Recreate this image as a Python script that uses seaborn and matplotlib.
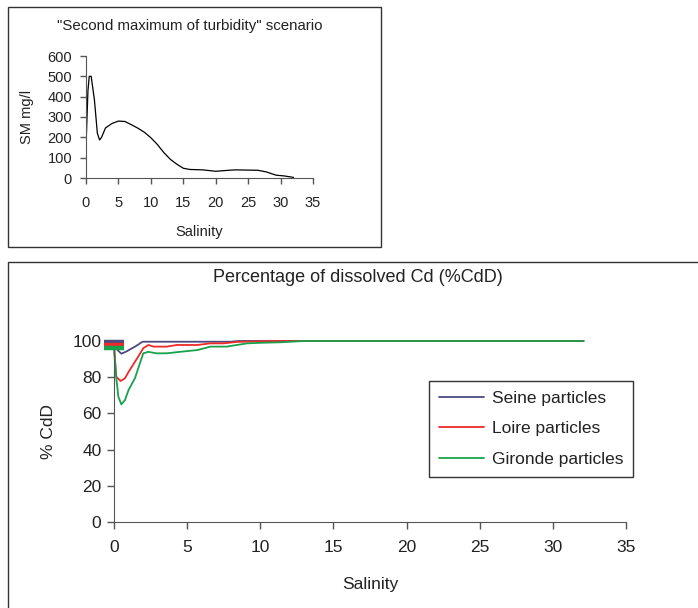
import matplotlib
matplotlib.use("Agg")
import matplotlib.pyplot as plt
from matplotlib.patches import Rectangle
import seaborn as sns
import pandas as pd

# Suspended matter profile along the salinity gradient
sal_sm = [0, 0.05, 0.3, 0.5, 0.8, 1.3, 1.75, 2.1, 2.4, 3.0, 4.0, 5.0, 6.0, 7.0,
          8.0, 9.0, 10.0, 11.0, 12.0, 13.0, 14.0, 15.0, 16.0, 18.0, 20.0, 22.0,
          23.0, 26.5, 27.8, 29.3, 30.6, 32.0]
sm_mgl = [0, 200, 430, 500, 500, 384, 220, 187, 200, 246, 268, 280, 278, 262,
          245, 225, 198, 165, 125, 92, 68, 48, 42, 40, 33, 38,
          40, 38, 30, 14, 10, 3]

# Percentage of dissolved Cd for three particle types
sal_seine = [0, 0.12, 0.5, 0.8, 1.5, 1.95, 8.0, 8.5, 32.1]
cdd_seine = [99.7, 96, 93, 94, 97.2, 99.6, 99.6, 100, 100]

sal_loire = [0, 0.15, 0.45, 0.75, 1.0, 1.65, 2.0, 2.35, 2.7, 3.6, 4.3, 5.7,
             6.6, 7.5, 8.4, 11.0, 32.1]
cdd_loire = [98, 80.3, 77.9, 79.4, 83, 91.3, 96, 97.8, 96.9, 96.9, 97.8, 97.8,
             98.7, 98.7, 99.5, 100, 100]

sal_gironde = [0, 0.15, 0.3, 0.5, 0.75, 1.0, 1.43, 2.0, 2.35, 2.9, 3.6, 4.5,
               5.7, 6.6, 7.7, 9.1, 10.0, 11.4, 13.0, 32.1]
cdd_gironde = [96, 80, 69.2, 65, 67.4, 73, 79.4, 93.2, 94, 93.2, 93.2, 94,
               95, 96.9, 96.9, 98.7, 99, 99.3, 100, 100]

series_names = ["Seine particles", "Loire particles", "Gironde particles"]
series_colors = ["#4a4a80", "#ee2a2a", "#18a24c"]

x_ticks = [0, 5, 10, 15, 20, 25, 30, 35]
sm_ticks = [0, 100, 200, 300, 400, 500, 600]
cdd_ticks = [0, 20, 40, 60, 80, 100]

sns.set_style("ticks")
plt.rcParams["font.family"] = ["Liberation Sans", "DejaVu Sans"]
plt.rcParams["axes.edgecolor"] = "#555555"
plt.rcParams["xtick.color"] = "#555555"
plt.rcParams["ytick.color"] = "#555555"
plt.rcParams["xtick.labelcolor"] = "#222222"
plt.rcParams["ytick.labelcolor"] = "#222222"

W, H = 698, 608
fig = plt.figure(figsize=(W / 100, H / 100), dpi=100)


def fx(px):
    return px / W


def fy(py):
    return 1 - py / H


# Panel frames
fig.patches.append(Rectangle((fx(8), fy(247)), fx(381) - fx(8), fy(7) - fy(247),
                             transform=fig.transFigure, fill=False,
                             edgecolor="#333333", lw=1.0))
fig.patches.append(Rectangle((fx(8), fy(620)), fx(720) - fx(8), fy(262) - fy(620),
                             transform=fig.transFigure, fill=False,
                             edgecolor="#333333", lw=1.0))

# ---- Top panel: suspended matter ----
ax1 = fig.add_axes([fx(86), fy(178), fx(313) - fx(86), fy(56) - fy(178)])
df_sm = pd.DataFrame({"Salinity": sal_sm, "SM": sm_mgl})
sns.lineplot(data=df_sm, x="Salinity", y="SM", ax=ax1, color="black",
             lw=0.9, estimator=None, sort=False)
ax1.set_xlim(0, 35)
ax1.set_ylim(0, 600)
ax1.set_xticks(x_ticks)
ax1.set_yticks(sm_ticks)
ax1.tick_params(axis="y", labelsize=10.5, length=4, width=1, direction="out", pad=6)
ax1.tick_params(axis="x", labelsize=10.5, length=4, width=1, direction="out", pad=9)
sns.despine(ax=ax1)
ax1.set_xlabel("Salinity", fontsize=10.5, labelpad=11, color="#222222")
ax1.set_ylabel("SM mg/l", fontsize=10.5, labelpad=10, color="#222222")
fig.text(fx(190), fy(26), "\"Second maximum of turbidity\" scenario",
         ha="center", va="center", fontsize=10.8, color="#222222")

# ---- Bottom panel: dissolved Cd ----
ax2 = fig.add_axes([fx(114), fy(522), fx(626) - fx(114), fy(341) - fy(522)])
frames = []
for name, s, v in zip(series_names,
                      [sal_seine, sal_loire, sal_gironde],
                      [cdd_seine, cdd_loire, cdd_gironde]):
    frames.append(pd.DataFrame({"Salinity": s, "CdD": v, "Particles": name}))
df_cd = pd.concat(frames, ignore_index=True)
sns.lineplot(data=df_cd, x="Salinity", y="CdD", hue="Particles",
             hue_order=series_names, palette=series_colors, ax=ax2,
             lw=1.3, estimator=None, sort=False)
for line in ax2.get_lines():
    line.set_clip_on(False)

# Start-point markers at zero salinity
for s, v, c in zip([sal_seine, sal_loire, sal_gironde],
                   [cdd_seine, cdd_loire, cdd_gironde], series_colors):
    ax2.plot(s[0], v[0], marker="_", ms=14, mew=3.2, color=c,
             clip_on=False, zorder=5)

ax2.set_xlim(0, 35)
ax2.set_ylim(0, 100)
ax2.set_xticks(x_ticks)
ax2.set_yticks(cdd_ticks)
ax2.tick_params(axis="y", labelsize=12.5, length=5, width=1, direction="out", pad=4)
ax2.tick_params(axis="x", labelsize=12.5, length=5, width=1, direction="out", pad=8)
sns.despine(ax=ax2)
ax2.set_xlabel("Salinity", fontsize=12.5, labelpad=16, color="#222222")
ax2.set_ylabel("% CdD", fontsize=12.5, labelpad=12, color="#222222")
fig.text(fx(358), fy(278), "Percentage of dissolved Cd (%CdD)",
         ha="center", va="center", fontsize=13, color="#222222")

leg = ax2.legend(loc="upper left", bbox_to_anchor=(fx(429), fy(381)),
                 bbox_transform=fig.transFigure, fontsize=12.5,
                 frameon=True, fancybox=False, handlelength=2.6,
                 handletextpad=0.45, labelspacing=0.9, borderpad=0.55,
                 borderaxespad=0, title=None)
leg.get_frame().set_edgecolor("black")
leg.get_frame().set_linewidth(1.0)
for t in leg.get_texts():
    t.set_color("#222222")

fig.savefig("out.png", dpi=100)
